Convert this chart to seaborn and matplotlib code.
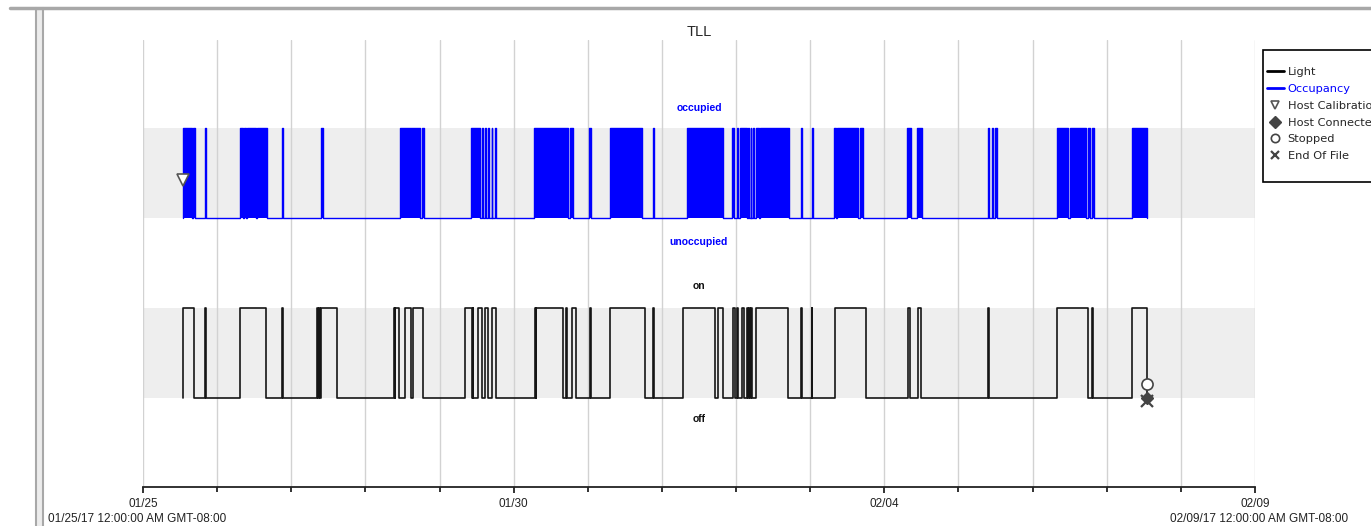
import numpy as np
import pandas as pd
import matplotlib
matplotlib.use("Agg")
import matplotlib.pyplot as plt
import seaborn as sns
from matplotlib.lines import Line2D
from matplotlib.patches import Rectangle
import matplotlib.transforms as mtransforms

# ---------------- data ----------------
title = "TLL"
day_ticks = [0, 5, 10, 15]
day_labels = ["01/25", "01/30", "02/04", "02/09"]
minor_days = list(range(16))
start_stamp = "01/25/17 12:00:00 AM GMT-08:00"
end_stamp = "02/09/17 12:00:00 AM GMT-08:00"

# state levels (off/on for Light, unoccupied/occupied for Occupancy)
level_names = ["off", "on", "unoccupied", "occupied"]
level_values = [0, 1, 2, 3]

# Occupancy: occupied intervals (days since 01/25 00:00)
occupied_start = [0.544, 0.681, 0.836, 1.308, 1.362, 1.399, 1.542, 1.875, 2.401, 3.467,
                  3.760, 4.425, 4.569, 4.613, 4.654, 4.704, 4.748, 5.274, 5.760, 6.020,
                  6.300, 6.876, 7.334, 7.949, 8.009, 8.053, 8.165, 8.198, 8.233, 8.265,
                  8.322, 8.872, 9.020, 9.321, 9.357, 9.671, 10.302, 10.445, 11.394, 11.449,
                  11.493, 12.325, 12.505, 12.751, 12.806, 13.337]
occupied_end = [0.657, 0.708, 0.850, 1.349, 1.389, 1.520, 1.669, 1.889, 2.428, 3.737,
                3.790, 4.546, 4.587, 4.623, 4.663, 4.712, 4.757, 5.729, 5.805, 6.039,
                6.727, 6.893, 7.828, 7.972, 8.026, 8.143, 8.174, 8.206, 8.242, 8.313,
                8.718, 8.894, 9.041, 9.348, 9.649, 9.716, 10.356, 10.504, 11.412, 11.470,
                11.516, 12.482, 12.717, 12.774, 12.829, 13.548]

# Light: on intervals (days since 01/25 00:00)
light_on_start = [0.544, 0.836, 1.308, 1.879, 2.343, 2.370, 2.395, 3.386, 3.404, 3.534,
                  3.638, 4.344, 4.445, 4.524, 4.613, 4.703, 5.288, 5.305, 5.706, 5.791,
                  6.030, 6.300, 6.884, 7.280, 7.760, 7.953, 8.008, 8.082, 8.141, 8.172,
                  8.199, 8.275, 8.878, 9.020, 9.335, 10.315, 10.458, 11.405, 12.325, 12.805,
                  13.345]
light_on_end = [0.692, 0.850, 1.659, 1.889, 2.360, 2.385, 2.621, 3.398, 3.453, 3.611,
                3.781, 4.434, 4.455, 4.569, 4.658, 4.762, 5.300, 5.670, 5.715, 5.837,
                6.040, 6.772, 6.894, 7.716, 7.820, 7.985, 8.020, 8.104, 8.159, 8.186,
                8.217, 8.705, 8.890, 9.030, 9.749, 10.346, 10.495, 11.418, 12.751, 12.815,
                13.548]

# events
event_names = ["Host Calibration", "Host Connected", "Stopped", "End Of File"]
event_day = [0.544, 13.548, 13.548, 13.548]
event_level = [2.42, 0.0, 0.16, -0.03]


def step_series(starts, ends, low, high):
    t = [starts[0]]
    v = [low]
    for s, e in zip(starts, ends):
        t += [s, e]
        v += [high, low]
    return pd.DataFrame({"day": t, "value": v})


sns.set_style("white")
plt.rcParams["font.family"] = ["Liberation Sans", "DejaVu Sans"]

W, H = 1371, 526
fig = plt.figure(figsize=(W / 100, H / 100), dpi=100)
ax = fig.add_axes([143 / W, 1 - 487 / H, (1255 - 143) / W, (487 - 40) / H])

lv = dict(zip(level_names, level_values))
# grey bands
ax.axhspan(lv["off"], lv["on"], color="#eeeeee", zorder=0, lw=0)
ax.axhspan(lv["unoccupied"], lv["occupied"], color="#eeeeee", zorder=0, lw=0)

occ = step_series(occupied_start, occupied_end, lv["unoccupied"], lv["occupied"])
light = step_series(light_on_start, light_on_end, lv["off"], lv["on"])

ax.fill_between(occ["day"], lv["unoccupied"], occ["value"], step="post",
                color="#0000ff", lw=0, zorder=2)
sns.lineplot(data=occ, x="day", y="value", drawstyle="steps-post", estimator=None,
             sort=False, color="#0000ff", lw=1.0, ax=ax, legend=False, zorder=3)
sns.lineplot(data=light, x="day", y="value", drawstyle="steps-post", estimator=None,
             sort=False, color="#151515", lw=1.2, ax=ax, legend=False, zorder=3)

# event markers
event_styles = {
    "Host Calibration": dict(marker="v", mfc="white", mec="#555555", ms=8, mew=1.2),
    "Host Connected": dict(marker="D", mfc="#444444", mec="#444444", ms=6),
    "Stopped": dict(marker="o", mfc="white", mec="#444444", ms=8, mew=1.2),
    "End Of File": dict(marker="x", color="#444444", ms=8, mew=1.6),
}
for name, d, y in zip(event_names, event_day, event_level):
    ax.plot([d], [y], ls="none", zorder=5, **event_styles[name])

# axes styling
ax.set_xlim(day_ticks[0], day_ticks[-1])
ax.set_ylim(-0.99, 3.98)
ax.set_xticks(day_ticks)
ax.set_xticklabels(day_labels)
ax.set_xticks(minor_days, minor=True)
ax.set_yticks([])
ax.set_xlabel("")
ax.set_ylabel("")
ax.grid(True, which="both", axis="x", color="#d2d2d2", lw=1.0, zorder=1)
ax.set_axisbelow(True)
for s in ["left", "right", "top"]:
    ax.spines[s].set_visible(False)
ax.spines["bottom"].set_color("#222222")
ax.spines["bottom"].set_linewidth(1.3)
ax.tick_params(axis="x", which="both", bottom=True)
ax.tick_params(axis="x", which="major", direction="out", length=4.5, width=1.3,
               color="#222222", labelsize=8.5, pad=3.5, labelcolor="#222222")
ax.tick_params(axis="x", which="minor", direction="out", length=3.5, width=1.3,
               color="#222222")
ax.set_title(title, fontsize=10.5, pad=3)

# level labels
tr = mtransforms.blended_transform_factory(ax.transAxes, ax.transData)
ax.text(0.5, 3.22, "occupied", color="#0000ff", fontsize=7.5, fontweight="bold",
        ha="center", va="center", transform=tr)
ax.text(0.5, 1.73, "unoccupied", color="#0000ff", fontsize=7.5, fontweight="bold",
        ha="center", va="center", transform=tr)
ax.text(0.5, 1.245, "on", color="#111111", fontsize=7.5, fontweight="bold",
        ha="center", va="center", transform=tr)
ax.text(0.5, -0.233, "off", color="#111111", fontsize=7.5, fontweight="bold",
        ha="center", va="center", transform=tr)

# date stamps
fig.text(48 / W, 1 - 519 / H, start_stamp, ha="left", va="center", fontsize=8.5,
         color="#222222")
fig.text(1348 / W, 1 - 519 / H, end_stamp, ha="right", va="center", fontsize=8.5,
         color="#222222")

# legend
handles = [
    Line2D([], [], color="black", lw=2),
    Line2D([], [], color="#0000ff", lw=2),
    Line2D([], [], ls="none", **event_styles["Host Calibration"]),
    Line2D([], [], ls="none", **event_styles["Host Connected"]),
    Line2D([], [], ls="none", **event_styles["Stopped"]),
    Line2D([], [], ls="none", **event_styles["End Of File"]),
]
for h in handles[2:]:
    h.set_markersize(6)
labels = ["Light", "Occupancy"] + event_names
fig.add_artist(Rectangle((1263 / W, 1 - 182 / H), 0.2, 132 / H, transform=fig.transFigure,
                         facecolor="white", edgecolor="black", lw=1.2, zorder=1))
leg = fig.legend(handles, labels, loc="upper left",
                 bbox_to_anchor=(1267 / W, 1 - 67 / H), frameon=False,
                 prop={"family": "DejaVu Sans", "size": 8.2}, handlelength=1.45,
                 handletextpad=0.35, labelspacing=0.6, borderpad=0, borderaxespad=0)
leg.set_zorder(5)
leg.get_texts()[1].set_color("#0000ff")

# window chrome
fig.add_artist(Line2D([10 / W, 1], [1 - 8 / H, 1 - 8 / H], color="#a8a8a8", lw=2.5,
                      transform=fig.transFigure))
fig.add_artist(Rectangle((36 / W, 0), 7 / W, 1 - 8 / H, transform=fig.transFigure,
                         facecolor="#ececec", edgecolor="none"))
for xp in (36, 42.5):
    fig.add_artist(Line2D([xp / W, xp / W], [0, 1 - 8 / H], color="#a8a8a8", lw=1.5,
                          transform=fig.transFigure))

fig.savefig("out.png", dpi=100)
